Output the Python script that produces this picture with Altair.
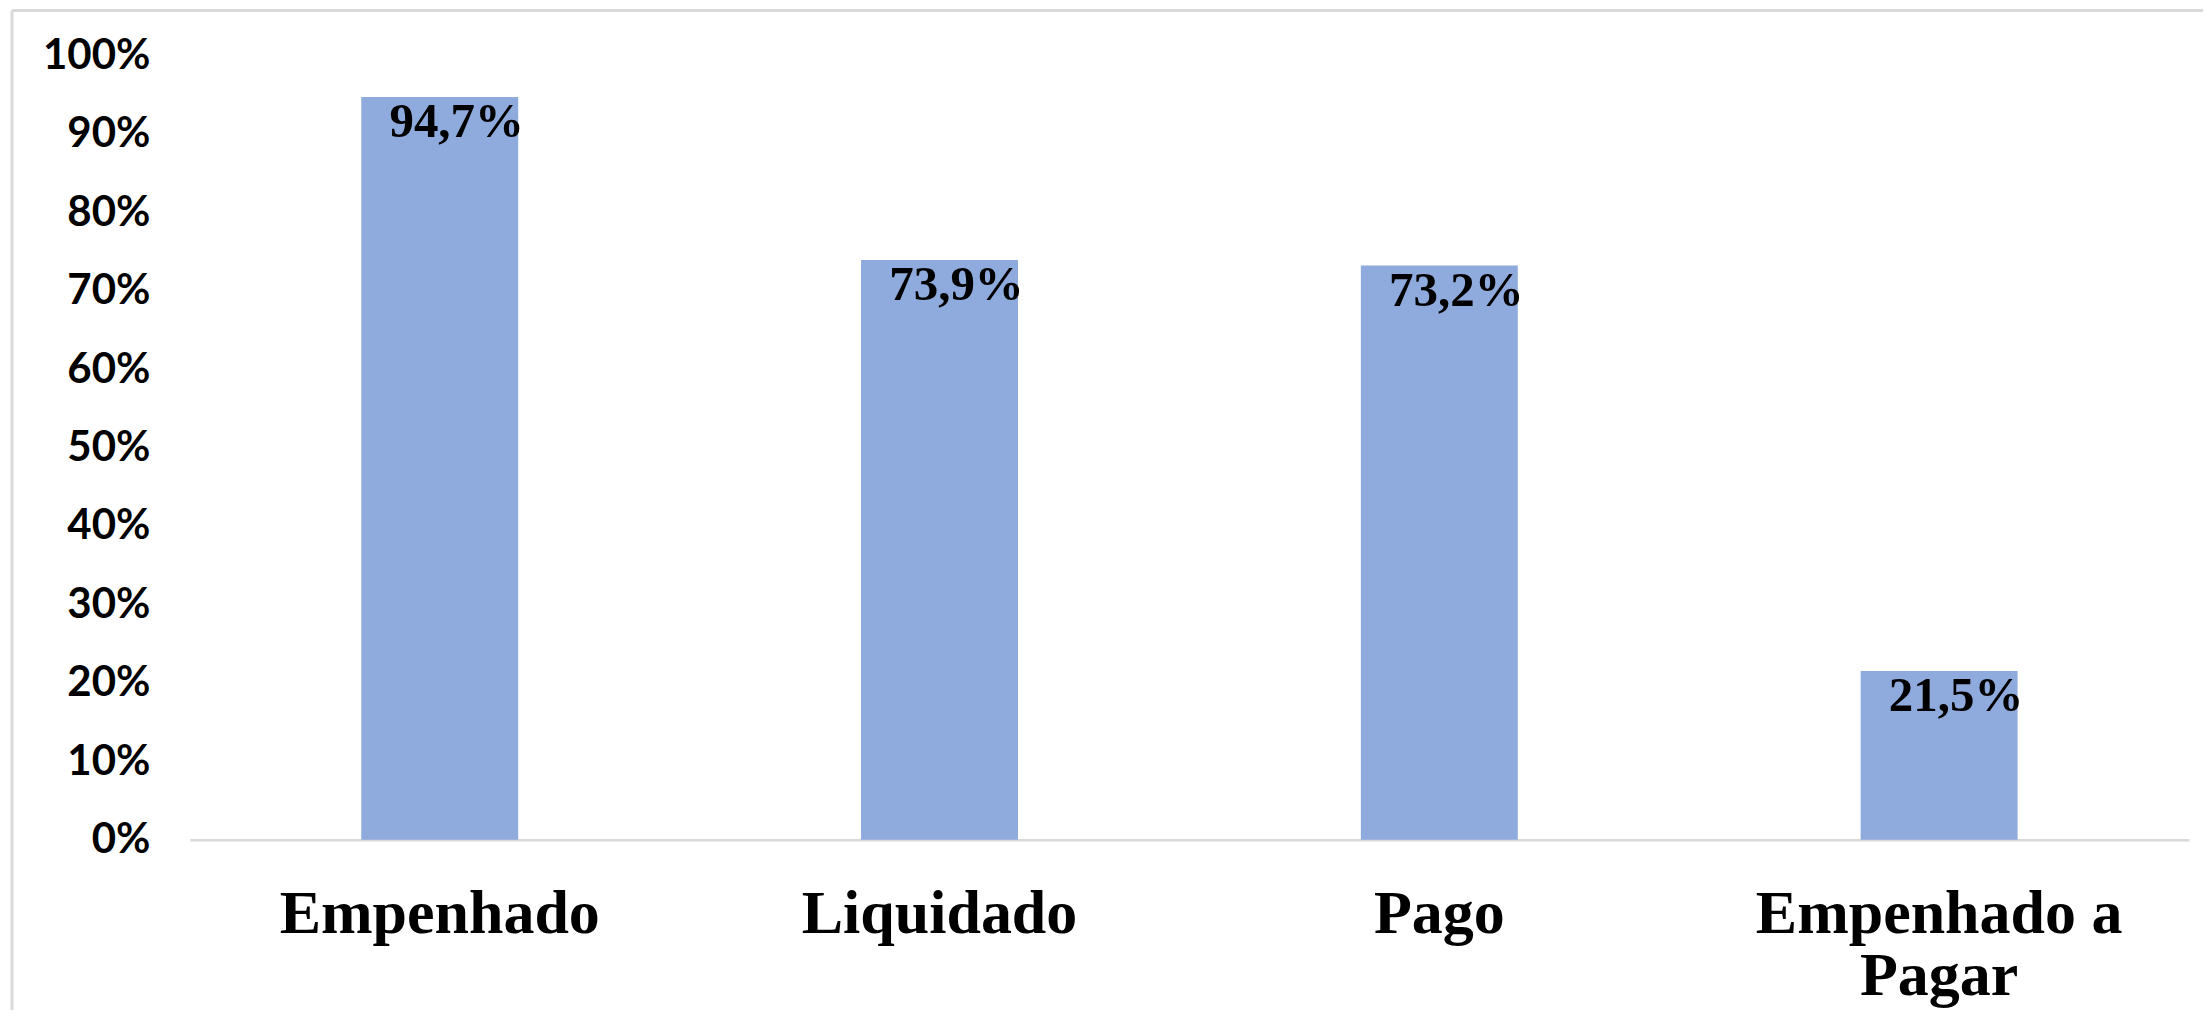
import altair as alt
import pandas as pd

categorias = ["Empenhado", "Liquidado", "Pago", "Empenhado a Pagar"]
percentuais = [0.947, 0.739, 0.732, 0.215]
rotulos = ["94,7%", "73,9%", "73,2%", "21,5%"]
ticks_y = [0, 0.1, 0.2, 0.3, 0.4, 0.5, 0.6, 0.7, 0.8, 0.9, 1.0]

df = pd.DataFrame({"cat": categorias, "valor": percentuais, "rotulo": rotulos})

W = 2001
H = 785
PAD_L = 182
PAD_T = 47

x = alt.X(
    "cat:N", sort=categorias, title=None,
    scale=alt.Scale(paddingInner=0.686, paddingOuter=0.343),
    axis=alt.Axis(
        labelAngle=0, labelFont="Liberation Serif", labelFontWeight="bold",
        labelFontSize=62, labelColor="black", labelPadding=44, labelLineHeight=62,
        labelLimit=2000, labelOverlap=False, ticks=False,
        domainColor="#D9D9D9", domainWidth=2.5,
        labelExpr="datum.label == 'Empenhado a Pagar' ? ['Empenhado a', 'Pagar'] : datum.label",
    ),
)
y = alt.Y(
    "valor:Q", title=None, scale=alt.Scale(domain=[0, 1]),
    axis=alt.Axis(
        format=".0%", values=ticks_y, grid=False, domain=False, ticks=False,
        labelFont="Lato", labelFontWeight="bold", labelFontSize=42,
        labelColor="black", labelPadding=40,
    ),
)

base = alt.Chart(df)
bars = base.mark_bar(color="#8FAADC").encode(x=x, y=y)
texts = base.mark_text(
    font="Liberation Serif", fontWeight="bold", fontSize=49,
    baseline="alphabetic", dx=17, dy=40, color="black",
).encode(x=alt.X("cat:N", sort=categorias), y="valor:Q", text="rotulo:N")

frame_df = pd.DataFrame({"k": [0]})
left_line = alt.Chart(frame_df).mark_rule(color="#D9D9D9", strokeWidth=3).encode(
    x=alt.value(-178), y=alt.value(-45), y2=alt.value(H + 300)
)
top_line = alt.Chart(frame_df).mark_rule(color="#D9D9D9", strokeWidth=3).encode(
    x=alt.value(-178), x2=alt.value(W + 30), y=alt.value(-45)
)

chart = alt.layer(bars, texts, left_line, top_line).properties(
    width=W, height=H,
    autosize=alt.AutoSizeParams(type="none"),
    padding={"left": PAD_L, "top": PAD_T, "right": 14, "bottom": 170},
    background="white",
).configure_view(stroke=None)

chart.save("out.html", embed_options={"renderer": "svg", "actions": False})
